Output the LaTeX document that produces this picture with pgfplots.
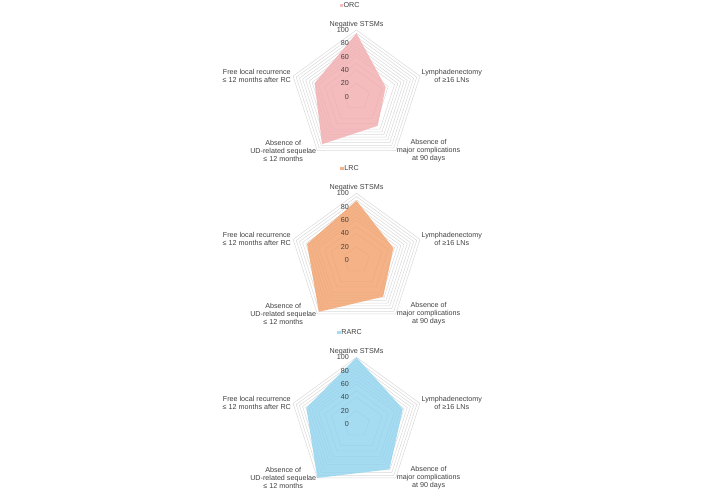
\documentclass[border=0pt]{standalone}
\usepackage{pgfplots}
\pgfplotsset{compat=1.18}
\usepgfplotslibrary{polar}
\usepackage{fontspec}
\setmainfont{Liberation Sans}
\definecolor{txt}{HTML}{404040}
\definecolor{gridc}{HTML}{D9D9D9}
\definecolor{orc}{RGB}{242,171,174}
\definecolor{lrc}{RGB}{242,159,105}
\definecolor{rarc}{RGB}{142,211,239}
\newcommand{\lbl}{\fontsize{7.2}{8}\selectfont\color{txt}}
\pgfplotsset{
  radar/.style={hide axis, scale only axis, width=133.4bp, height=133.4bp,
    ymin=0, ymax=100, xmin=0, xmax=360, clip=false, anchor=center,
    legend style={at={(0.451,1.184)}, anchor=center, draw=none, fill=none,
      inner sep=0pt, font=\lbl, legend cell align=left,
      nodes={inner sep=0.8bp}}},
}
\newcommand{\radargrid}{%
  \pgfplotsinvokeforeach{20,40,50,60,65,70,75,80,85,90,95,100}{%
    \addplot[gridc, line width=0.5bp, forget plot] coordinates {(90,##1)(18,##1)(-54,##1)(-126,##1)(162,##1)(90,##1)};}}
\newcommand{\radarlabels}{%
  \pgfplotsinvokeforeach{0,20,40,60,80,100}{%
    \node[anchor=east, inner sep=0pt, font=\lbl] at (axis cs:90,##1) [xshift=-7.5bp] {##1};}
  \node[anchor=south, align=center, inner sep=0pt, font=\lbl] at (axis cs:90,100) [yshift=2bp] {Negative STSMs};
  \node[anchor=west, align=center, inner sep=0pt, font=\lbl] at (axis cs:18,100) [xshift=1.5bp] {Lymphadenectomy\\of ≥16 LNs};
  \node[anchor=west, align=center, inner sep=0pt, font=\lbl] at (axis cs:-54,100) [xshift=1bp] {Absence of\\major complications\\at 90 days};
  \node[anchor=east, align=center, inner sep=0pt, font=\lbl] at (axis cs:-126,100) [xshift=-1bp] {Absence of\\UD-related sequelae\\≤ 12 months};
  \node[anchor=east, align=center, inner sep=0pt, font=\lbl] at (axis cs:162,100) [xshift=-2bp] {Free local recurrence\\≤ 12 months after RC};
}
\begin{document}
\begin{tikzpicture}
\path[use as bounding box] (0bp,0bp) rectangle (706bp,-497bp);
% ORC
\begin{polaraxis}[radar, at={(356.5bp,-96.7bp)}]
\radargrid
\addplot[fill=orc, fill opacity=0.8, draw=none,
  legend image code/.code={\fill[orc] (0bp,-1.6bp) rectangle (3.2bp,1.6bp);}]
  coordinates {(90,95) (18,46) (-54,54) (-126,88) (162,66) (90,95)};
\addlegendentry{ORC}
\radarlabels
\end{polaraxis}
% LRC
\begin{polaraxis}[radar, at={(356.5bp,-260bp)}]
\radargrid
\addplot[fill=lrc, fill opacity=0.8, draw=none,
  legend image code/.code={\fill[lrc] (0bp,-1.6bp) rectangle (3.2bp,1.6bp);}]
  coordinates {(90,89) (18,58) (-54,68) (-126,96) (162,78) (90,89)};
\addlegendentry{LRC}
\radarlabels
\end{polaraxis}
% RARC
\begin{polaraxis}[radar, at={(356.5bp,-424bp)}]
\radargrid
\addplot[fill=rarc, fill opacity=0.8, draw=none,
  legend image code/.code={\fill[rarc] (0bp,-1.6bp) rectangle (3.2bp,1.6bp);}]
  coordinates {(90,100) (18,73) (-54,84) (-126,100) (162,79) (90,100)};
\addlegendentry{RARC}
\radarlabels
\end{polaraxis}
\end{tikzpicture}
\end{document}
